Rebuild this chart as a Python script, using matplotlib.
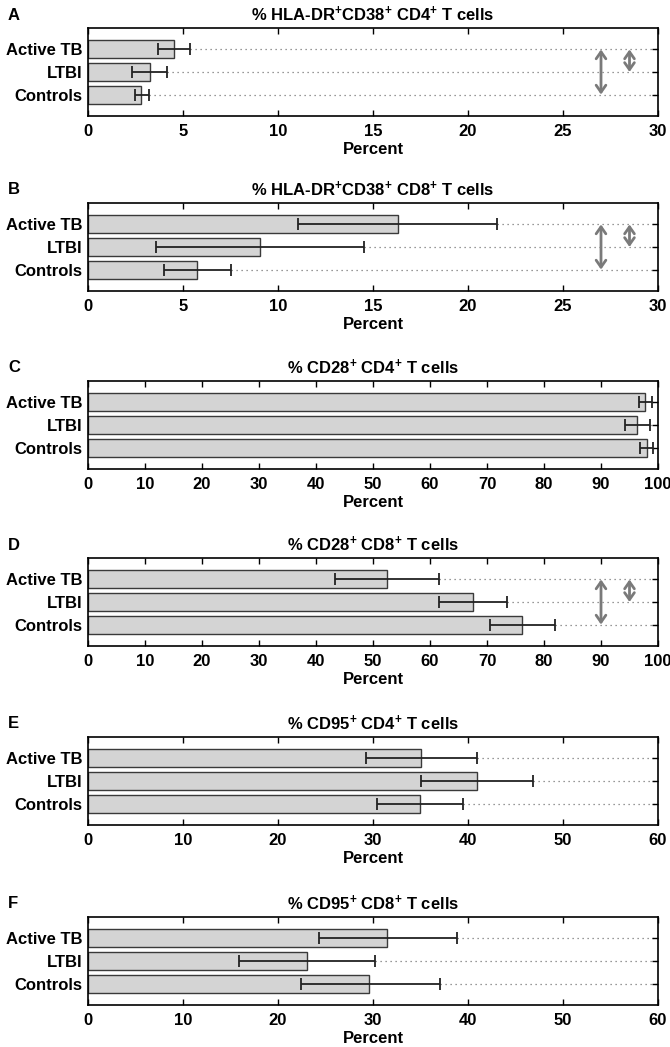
import matplotlib
matplotlib.use('Agg')
import matplotlib.pyplot as plt
import numpy as np

# 数据：每个面板的均值和误差线上下限
groups = ['Active TB', 'LTBI', 'Controls']

panel_letters = ['A', 'B', 'C', 'D', 'E', 'F']
panel_titles = [
    r'% HLA-DR$^{+}$CD38$^{+}$ CD4$^{+}$ T cells',
    r'% HLA-DR$^{+}$CD38$^{+}$ CD8$^{+}$ T cells',
    r'% CD28$^{+}$ CD4$^{+}$ T cells',
    r'% CD28$^{+}$ CD8$^{+}$ T cells',
    r'% CD95$^{+}$ CD4$^{+}$ T cells',
    r'% CD95$^{+}$ CD8$^{+}$ T cells',
]
x_max = [30, 30, 100, 100, 60, 60]
x_step = [5, 5, 10, 10, 10, 10]

means_a = [4.5, 3.25, 2.8]
low_a = [3.7, 2.3, 2.45]
high_a = [5.35, 4.15, 3.2]

means_b = [16.3, 9.05, 5.75]
low_b = [11.05, 3.6, 4.0]
high_b = [21.5, 14.55, 7.5]

means_c = [97.8, 96.4, 98.0]
low_c = [96.6, 94.2, 96.9]
high_c = [98.9, 98.6, 99.2]

means_d = [52.4, 67.5, 76.2]
low_d = [43.3, 61.5, 70.5]
high_d = [61.5, 73.5, 82.0]

means_e = [35.1, 40.9, 34.9]
low_e = [29.3, 35.0, 30.4]
high_e = [40.9, 46.8, 39.5]

means_f = [31.5, 23.0, 29.6]
low_f = [24.3, 15.9, 22.4]
high_f = [38.8, 30.2, 37.0]

all_means = [means_a, means_b, means_c, means_d, means_e, means_f]
all_low = [low_a, low_b, low_c, low_d, low_e, low_f]
all_high = [high_a, high_b, high_c, high_d, high_e, high_f]

# 显著性比较：(组1, 组2, 箭头所在 x 值)
sig_a = [(0, 2, 27.0), (0, 1, 28.5)]
sig_b = [(0, 2, 27.0), (0, 1, 28.5)]
sig_d = [(0, 2, 90.0), (0, 1, 95.0)]
all_sig = [sig_a, sig_b, [], sig_d, [], []]

# 样式
plt.rcParams['font.family'] = ['Liberation Sans', 'DejaVu Sans']
plt.rcParams['font.weight'] = 'bold'
plt.rcParams['mathtext.fontset'] = 'custom'
plt.rcParams['mathtext.rm'] = 'Liberation Sans:bold'
plt.rcParams['mathtext.bf'] = 'Liberation Sans:bold'
plt.rcParams['mathtext.default'] = 'rm'

fig_w, fig_h = 670, 1047
fig = plt.figure(figsize=(fig_w / 100, fig_h / 100), dpi=100)

ax_left, ax_right = 88, 658
ax_tops = [28, 203, 381, 558, 737, 917]
ax_height = 88
fs = 12

y = np.arange(len(groups))

for i in range(6):
    top = ax_tops[i]
    ax = fig.add_axes([ax_left / fig_w, 1 - (top + ax_height) / fig_h,
                       (ax_right - ax_left) / fig_w, ax_height / fig_h])
    means = np.array(all_means[i])
    low = np.array(all_low[i])
    high = np.array(all_high[i])

    ax.barh(y, means, height=0.8, color='#d4d4d4', edgecolor='#3a3a3a',
            linewidth=1.0, zorder=2)
    ax.errorbar(means, y, xerr=[means - low, high - means], fmt='none',
                ecolor='#222222', elinewidth=1.3, capsize=4, capthick=1.3,
                zorder=3)
    # 误差线右端到坐标轴右边的点线
    for k in range(len(groups)):
        ax.plot([high[k], x_max[i]], [y[k], y[k]], color='#777777',
                linestyle=(0, (1, 3)), linewidth=0.9, zorder=1)

    for g1, g2, xs in all_sig[i]:
        ax.annotate('', xy=(xs, y[g1]), xytext=(xs, y[g2]),
                    arrowprops=dict(arrowstyle='<->,head_length=0.5,head_width=0.35',
                                    color='#7a7a7a', lw=2.0,
                                    shrinkA=0, shrinkB=0), zorder=4)

    ax.set_xlim(0, x_max[i])
    ax.set_ylim(2.95, -0.95)
    ax.set_xticks(np.arange(0, x_max[i] + 1, x_step[i]))
    ax.set_yticks(y)
    ax.set_yticklabels(groups, fontsize=fs, fontweight='bold')
    ax.tick_params(axis='x', direction='in', top=True, bottom=True,
                   length=4, width=1, labelsize=fs, pad=6)
    ax.tick_params(axis='y', direction='in', left=False, right=True,
                   length=4, width=1, pad=4)
    for lab in ax.get_xticklabels():
        lab.set_fontweight('bold')
    for sp in ax.spines.values():
        sp.set_linewidth(1.2)
    ax.set_xlabel('Percent', fontsize=fs, fontweight='bold', labelpad=2)
    ax.set_title(panel_titles[i], fontsize=fs, fontweight='bold', pad=5)
    fig.text(8 / fig_w, 1 - (top - 13) / fig_h, panel_letters[i],
             fontsize=fs, fontweight='bold', va='center', ha='left')

fig.savefig('out.png', dpi=100)
